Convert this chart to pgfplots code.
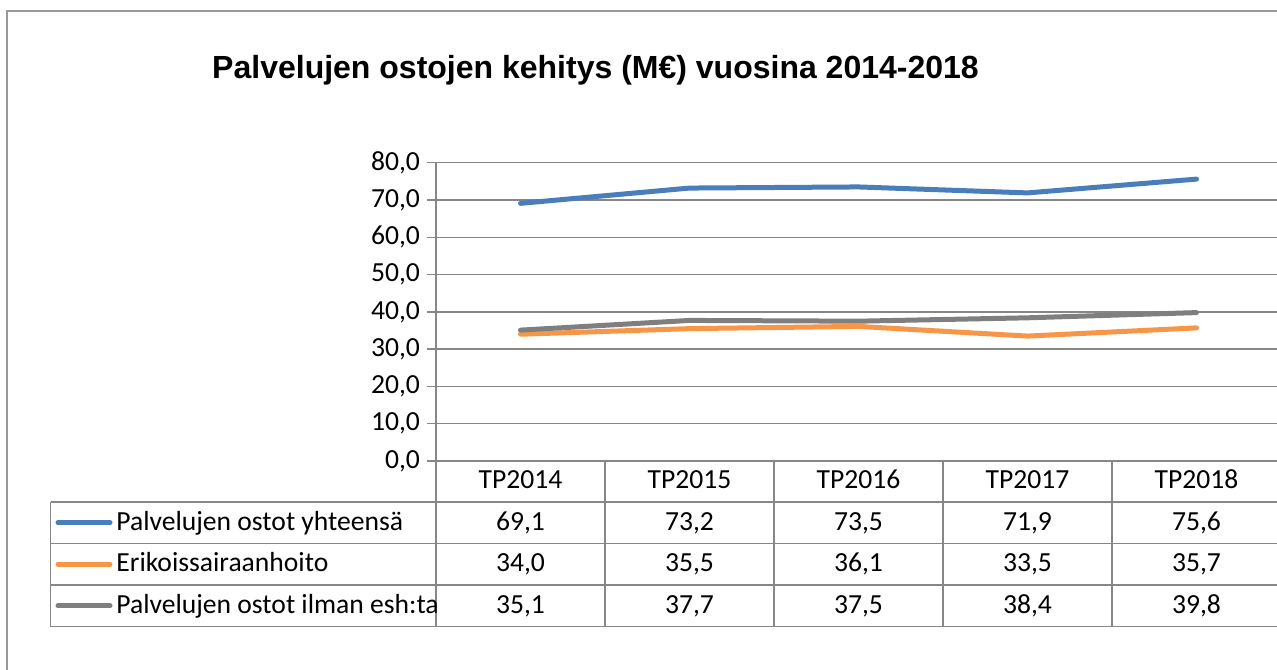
\documentclass[border=0pt]{standalone}
\usepackage{pgfplots}
\pgfplotsset{compat=1.18}
\usepackage{pgfplotstable}
\usepackage{fontspec}
\setmainfont{Carlito}
\newfontfamily\arialfont{Liberation Sans}

\definecolor{sblue}{HTML}{4A7EBB}
\definecolor{sorange}{HTML}{F79646}
\definecolor{sgray}{HTML}{7F7F7F}
\definecolor{gridgray}{HTML}{878787}
\definecolor{framegray}{HTML}{9A9A9A}

% columns: yht = Palvelujen ostot yhteensä, esh = Erikoissairaanhoito, ilman = ilman esh:ta
\pgfplotstableread{
cat yht  esh  ilman
1   69.1 34.0 35.1
2   73.2 35.5 37.7
3   73.5 36.1 37.5
4   71.9 33.5 38.4
5   75.6 35.7 39.8
}\data

\newcommand\tabfont{\fontsize{13.8}{16}\selectfont}
\newcommand\cell[3]{%
  \pgfplotstablegetelem{#2}{#1}\of\data
  \node[anchor=base,font=\tabfont] at ({520.5+169*#2},#3)
    {\pgfmathprintnumber[fixed,fixed zerofill,precision=1,use comma,assume math mode=true]{\pgfplotsretval}};}

\begin{document}
\begin{tikzpicture}[x=0.5pt,y=0.5pt]
\useasboundingbox (0,0) rectangle (1277,669);
\draw[framegray, line width=0.75pt] (7,-20) rectangle (1300,658);
\node[font=\arialfont\bfseries\fontsize{16}{19}\selectfont, anchor=base]
  at (595.5,590) {Palvelujen ostojen kehitys (M€) vuosina 2014-2018};

\begin{axis}[
  at={(218pt,104pt)}, anchor=south west, scale only axis,
  width=422.5pt, height=149.15pt,
  xmin=0.5, xmax=5.5, ymin=0, ymax=80,
  xtick=\empty,
  ytick={0,10,...,80},
  ymajorgrids, grid style={gridgray, line width=0.75pt},
  axis lines*=left,
  axis line style={gridgray, line width=0.75pt, -},
  tick align=outside, major tick length=4.5pt,
  ytick style={gridgray, line width=0.75pt},
  yticklabel style={font=\tabfont, /pgf/number format/.cd, fixed, fixed zerofill,
    precision=1, use comma, assume math mode=true},
  clip=false,
]
\addplot[sblue, line width=2.5pt, line cap=round, line join=round] table[x=cat,y=yht]{\data};
\addplot[sorange, line width=2.5pt, line cap=round, line join=round] table[x=cat,y=esh]{\data};
\addplot[sgray, line width=2.5pt, line cap=round, line join=round] table[x=cat,y=ilman]{\data};
\end{axis}

% data table below the plot
\begin{scope}[gridgray, line width=0.75pt]
  \foreach \y in {167,125.7,84,42.3} \draw (50.6,\y) -- (1290,\y);
  \draw (50.6,42.3) -- (50.6,167);
  \foreach \x in {436,605,774,943,1112} \draw (\x,42.3) -- (\x,208);
\end{scope}
\foreach \i/\t in {0/TP2014,1/TP2015,2/TP2016,3/TP2017,4/TP2018}
  \node[anchor=base,font=\tabfont] at ({520.5+169*\i},180.5) {\t};

\draw[sblue, line width=2.5pt, line cap=round] (58,146.3) -- (110,146.3);
\draw[sorange, line width=2.5pt, line cap=round] (58,104.9) -- (110,104.9);
\draw[sgray, line width=2.5pt, line cap=round] (58,63.2) -- (110,63.2);
\node[anchor=base west,font=\tabfont,inner sep=0pt] at (116,138.8) {Palvelujen ostot yhteensä};
\node[anchor=base west,font=\tabfont,inner sep=0pt] at (116,97.4) {Erikoissairaanhoito};
\node[anchor=base west,font=\tabfont,inner sep=0pt] at (116,55.7) {Palvelujen ostot ilman esh:ta};

\foreach \i in {0,...,4} {
  \cell{yht}{\i}{138.8}
  \cell{esh}{\i}{97.4}
  \cell{ilman}{\i}{55.7}
}
\end{tikzpicture}
\end{document}
